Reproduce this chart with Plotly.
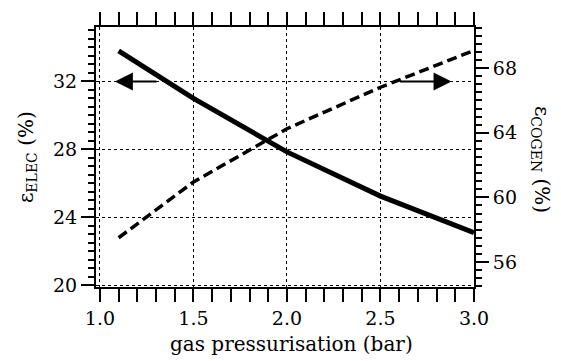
import plotly.graph_objects as go

# gas pressurisation (bar)
pressure = [1.1, 1.5, 2.0, 2.5, 3.0]
# electrical efficiency (%), left axis
eff_elec = [33.8, 31.0, 27.85, 25.25, 23.1]
# cogeneration efficiency (%), right axis
eff_cogen = [57.5, 60.95, 64.25, 66.82, 69.1]

x_ticks = [1.0, 1.5, 2.0, 2.5, 3.0]
x_ticklabels = ["1.0", "1.5", "2.0", "2.5", "3.0"]
y_ticks = [20, 24, 28, 32]
y2_ticks = [56, 60, 64, 68]

FONT = "DejaVu Serif"
TICK_SIZE = 19
TITLE_SIZE = 20

fig = go.Figure()

fig.add_trace(go.Scatter(
    x=pressure, y=eff_elec, mode="lines",
    line=dict(color="black", width=5),
    yaxis="y", showlegend=False,
))
fig.add_trace(go.Scatter(
    x=pressure, y=eff_cogen, mode="lines",
    line=dict(color="black", width=3.5, dash="10px,5px"),
    yaxis="y2", showlegend=False,
))

axis_common = dict(
    showline=True, linecolor="black", linewidth=2,
    ticks="outside", ticklen=13, tickwidth=2, tickcolor="black",
    tickfont=dict(family=FONT, size=TICK_SIZE, color="black"),
    zeroline=False,
)

fig.update_layout(
    width=561, height=361,
    margin=dict(l=96, r=87, t=20, b=74),
    paper_bgcolor="white", plot_bgcolor="white",
    font=dict(family=FONT, color="black"),
    xaxis=dict(
        range=[0.979, 3.0], tickvals=x_ticks, ticktext=x_ticklabels,
        mirror="allticks",
        showgrid=True, gridcolor="black", gridwidth=1, griddash="dot",
        minor=dict(dtick=0.1, tick0=1.0, ticks="outside", ticklen=6,
                   tickwidth=1.5, tickcolor="black", showgrid=False),
        **axis_common,
    ),
    yaxis=dict(
        range=[19.9, 35.2], tickvals=y_ticks,
        showgrid=True, gridcolor="black", gridwidth=1, griddash="dot",
        minor=dict(dtick=0.5, tick0=20, ticks="outside", ticklen=6,
                   tickwidth=1.5, tickcolor="black", showgrid=False),
        **axis_common,
    ),
    yaxis2=dict(
        range=[54.45, 70.55], tickvals=y2_ticks,
        overlaying="y", side="right", showgrid=False,
        minor=dict(dtick=0.5, tick0=56, ticks="outside", ticklen=6,
                   tickwidth=1.5, tickcolor="black", showgrid=False),
        **axis_common,
    ),
)

# axis titles
fig.add_annotation(
    text="gas pressurisation (bar)", xref="paper", yref="paper",
    x=0.5185, y=-0.221, xanchor="center", yanchor="middle", showarrow=False,
    font=dict(family=FONT, size=TITLE_SIZE, color="black"),
)
fig.add_annotation(
    text="ε<sub>ELEC</sub> (%)", xref="paper", yref="paper",
    x=-0.1825, y=0.5, xanchor="center", yanchor="middle", showarrow=False,
    textangle=-90, font=dict(family=FONT, size=TITLE_SIZE, color="black"),
)
fig.add_annotation(
    text="ε<sub>COGEN</sub> (%)", xref="paper", yref="paper",
    x=1.179, y=0.49, xanchor="center", yanchor="middle", showarrow=False,
    textangle=90, font=dict(family=FONT, size=TITLE_SIZE, color="black"),
)

# arrows pointing each curve to its axis
fig.add_annotation(
    x=1.08, y=32, ax=1.31, ay=32, xref="x", yref="y", axref="x", ayref="y",
    text="", showarrow=True, arrowhead=2, arrowsize=1.8, arrowwidth=2,
    arrowcolor="black", standoff=0,
)
fig.add_annotation(
    x=2.88, y=32, ax=2.595, ay=32, xref="x", yref="y", axref="x", ayref="y",
    text="", showarrow=True, arrowhead=2, arrowsize=1.8, arrowwidth=2,
    arrowcolor="black", standoff=0,
)

fig.write_html("out.html")
